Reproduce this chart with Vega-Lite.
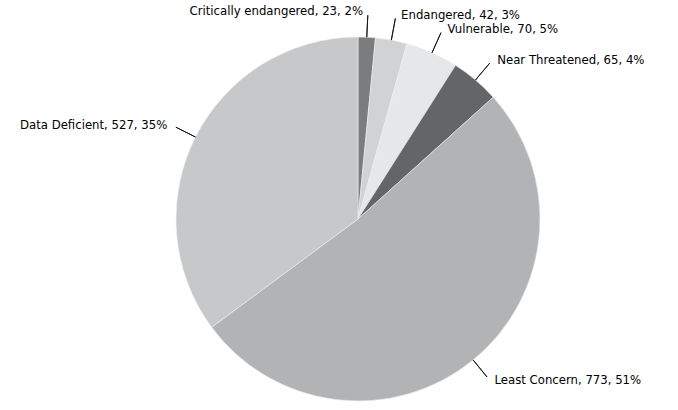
{
  "$schema": "https://vega.github.io/schema/vega-lite/v6.json",
  "width": 640,
  "height": 382,
  "padding": {"left": 38, "top": 28, "right": 0, "bottom": 0},
  "autosize": {"type": "none"},
  "background": "white",
  "config": {"view": {"stroke": null}, "text": {"font": "Liberation Sans Narrow, DejaVu Sans Condensed, sans-serif", "fontSize": 13, "fill": "#000000"}},
  "data": {
    "values": [
      {"category": "Critically endangered", "value": 23, "pct": 2, "order": 1},
      {"category": "Endangered", "value": 42, "pct": 3, "order": 2},
      {"category": "Vulnerable", "value": 70, "pct": 5, "order": 3},
      {"category": "Near Threatened", "value": 65, "pct": 4, "order": 4},
      {"category": "Least Concern", "value": 773, "pct": 51, "order": 5},
      {"category": "Data Deficient", "value": 527, "pct": 35, "order": 6}
    ]
  },
  "transform": [
    {"stack": "value", "groupby": [], "sort": [{"field": "order", "order": "ascending"}], "as": ["v0", "v1"]},
    {"calculate": "(datum.v0 + datum.v1) / 2", "as": "mid"},
    {"calculate": "datum.category + ', ' + datum.value + ', ' + datum.pct + '%'", "as": "label"}
  ],
  "layer": [
    {
      "mark": {"type": "arc", "outerRadius": 182, "stroke": "#eeeeee", "strokeWidth": 0.6},
      "encoding": {
        "theta": {"field": "v0", "type": "quantitative", "scale": {"domain": [0, 1500], "range": [0, 6.283185307179586]}},
        "theta2": {"field": "v1"},
        "color": {
          "field": "category",
          "type": "nominal",
          "legend": null,
          "scale": {
            "domain": ["Critically endangered", "Endangered", "Vulnerable", "Near Threatened", "Least Concern", "Data Deficient"],
            "range": ["#7b7c7e", "#d1d2d4", "#e6e7e8", "#646567", "#b2b3b5", "#c7c8ca"]
          }
        }
      }
    },
    {
      "mark": {"type": "arc", "innerRadius": 182, "outerRadius": 204, "stroke": "#111111", "strokeWidth": 0.9, "fill": null},
      "encoding": {
        "theta": {"field": "mid", "type": "quantitative"},
        "theta2": {"field": "mid"}
      }
    },
    {
      "transform": [{"filter": "datum.mid > 15 && datum.mid < 750"}],
      "mark": {"type": "text", "radius": 208, "align": "left", "baseline": "middle", "dx": 5},
      "encoding": {
        "theta": {"field": "mid", "type": "quantitative"},
        "text": {"field": "label"}
      }
    },
    {
      "transform": [{"filter": "datum.mid <= 15 || datum.mid >= 750"}],
      "mark": {"type": "text", "radius": 208, "align": "right", "baseline": "middle", "dx": -5},
      "encoding": {
        "theta": {"field": "mid", "type": "quantitative"},
        "text": {"field": "label"}
      }
    }
  ]
}
